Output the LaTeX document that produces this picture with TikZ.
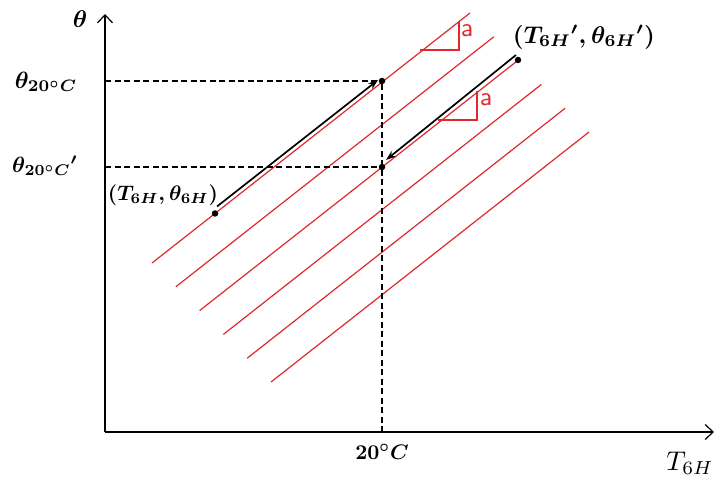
\documentclass[tikz,border=0pt]{standalone}
\usepackage{amsmath}
\usepackage{tikz}
\usetikzlibrary{arrows.meta,calc}
\definecolor{isored}{RGB}{225,40,45}
\begin{document}
\begin{tikzpicture}[x=1pt,y=-1pt,
  axis/.style={line width=1.3pt,-{Straight Barb[length=8pt,width=15pt,line width=1.2pt]}},
  guide/.style={line width=1.3pt,dash pattern=on 6pt off 3.5pt},
  iso/.style={draw=isored,line width=1.2pt},
  move/.style={line width=1.7pt,-{Stealth[length=10pt,width=7pt]}},
  dot/.style={circle,fill=black,inner sep=0pt,minimum size=6.5pt},
  lab/.style={font=\boldmath,inner sep=0.6pt,scale=2.1},
  slope/.style={text=isored,font=\sffamily,scale=2.6}]
\useasboundingbox (0,0) rectangle (720,481);
% axes
\coordinate (O) at (105,432);
\coordinate (Ytop) at (105,14);
\coordinate (Xend) at (714,432);
\draw[axis] (O) -- (Ytop);
\draw[axis] (O) -- (Xend);
% red iso-lines
\foreach \k in {0,...,5}{
  \draw[iso] ({152+23.8*\k},{263+23.8*\k}) -- ++(318,-250);
}
% points
\node[dot] (p1) at (215,213.5) {};
\node[dot] (p2) at (382,81) {};
\node[dot] (p3) at (382,167) {};
\node[dot] (p4) at (518,60) {};
% guides
\coordinate (g1) at (105,81);
\coordinate (g2) at (105,167);
\coordinate (g3) at (382,432);
\draw[guide] (g1) -- (p2);
\draw[guide] (g2) -- (p3);
\draw[guide] (p2) -- (g3);
% movement arrows
\draw[move] ($(p1)+(2,-7)$) -- ($(p2)+(-4,-1)$);
\draw[move] ($(p4)+(-2,-5)$) -- ($(p3)+(4,-7)$);
% slope triangles
\coordinate (t1a) at (420,50);
\coordinate (t1b) at (459,50);
\coordinate (t1c) at (459,21);
\draw[iso] (t1a) -- (t1b) -- (t1c);
\node[slope] (a1) at (467,31) {a};
\coordinate (t2a) at (438,120);
\coordinate (t2b) at (477,120);
\coordinate (t2c) at (477,91);
\draw[iso] (t2a) -- (t2b) -- (t2c);
\node[slope] (a2) at (486,100) {a};
% labels
\node[lab,scale=1.15] (ly) at (80,19) {$\theta$};
\node[lab,scale=1.12] (l20) at (46,82) {$\theta_{\mathbf{20}^{\circ}C}$};
\node[lab,scale=1.05] (l20p) at (45,166) {$\theta_{\mathbf{20}^{\circ}C}{}'$};
\node[lab] (lp1) at (163,195) {$(T_{\mathbf{6}H},\theta_{\mathbf{6}H})$};
\node[lab,scale=1.15] (lp4) at (584,37) {$(T_{\mathbf{6}H}{}',\theta_{\mathbf{6}H}{}')$};
\node[lab] (l20c) at (382,452) {$\mathbf{20}^{\circ}C$};
\node[inner sep=0.6pt,scale=2.7] (lx) at (690,463) {$T_{6H}$};
\end{tikzpicture}
\end{document}
